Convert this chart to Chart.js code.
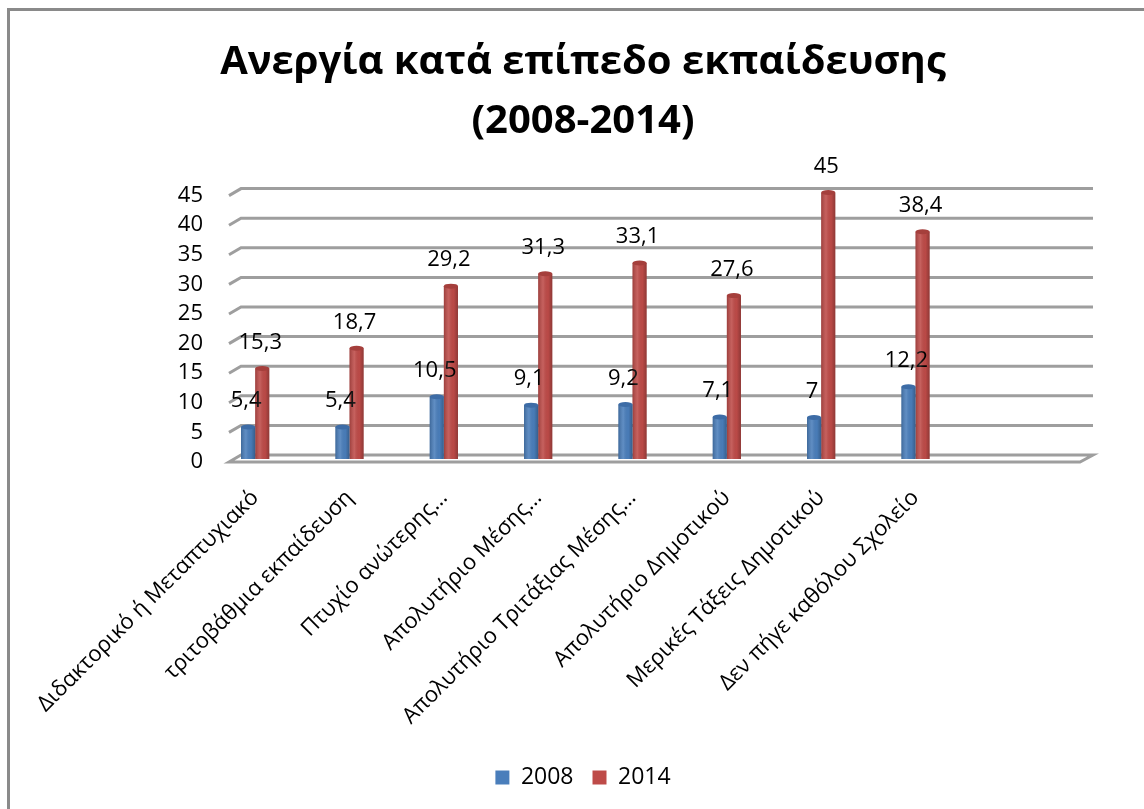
<!DOCTYPE html>
<html>
<head>
<meta charset="utf-8">
<script src="https://cdn.jsdelivr.net/npm/chart.js@4/dist/chart.umd.min.js"></script>
<style>
	html, body { margin: 0; padding: 0; background: #fff; }
	#wrap { position: relative; width: 1144px; height: 809px; }
	#frame { position: absolute; left: 7px; top: 8px; right: -10px; bottom: -10px; border-left: 3px solid #8a8a8a; border-top: 3px solid #8a8a8a; pointer-events: none; }
</style>
</head>
<body>
<div id="wrap">
	<canvas id="chart" width="1144" height="809"></canvas>
	<div id="frame"></div>
</div>
<script>
const categories = [
	'Διδακτορικό ή Μεταπτυχιακό',
	'τριτοβάθμια εκπαίδευση',
	'Πτυχίο ανώτερης…',
	'Απολυτήριο Μέσης…',
	'Απολυτήριο Τριτάξιας Μέσης…',
	'Απολυτήριο Δημοτικού',
	'Μερικές Τάξεις Δημοτικού',
	'Δεν πήγε καθόλου Σχολείο',
	''
];
const values2008 = [5.4, 5.4, 10.5, 9.1, 9.2, 7.1, 7, 12.2, null];
const values2014 = [15.3, 18.7, 29.2, 31.3, 33.1, 27.6, 45, 38.4, null];
const seriesNames = ['2008', '2014'];
const yTicks = [0, 5, 10, 15, 20, 25, 30, 35, 40, 45];
const titleLines = ['Ανεργία κατά επίπεδο εκπαίδευσης', '(2008-2014)'];

const FONT = "'Open Sans', 'Noto Sans', sans-serif";

// grid with a little 3d slant, like the excel chart
const grid3d = {
	id: 'grid3d',
	beforeDatasetsDraw(chart) {
		const { ctx, chartArea } = chart;
		const y = chart.scales.y;
		ctx.save();
		ctx.strokeStyle = '#9e9e9e';
		ctx.lineWidth = 3;
		ctx.lineJoin = 'miter';
		yTicks.forEach(v => {
			const py = y.getPixelForValue(v);
			ctx.beginPath();
			ctx.moveTo(chartArea.left + 21, py + 3);
			ctx.lineTo(chartArea.left + 33, py - 4);
			ctx.lineTo(chartArea.right + 36, py - 4);
			if (v === 0) {
				ctx.lineTo(chartArea.right + 23, py + 3);
				ctx.closePath();
			}
			ctx.stroke();
		});
		ctx.restore();
	}
};

// shading of the bars + value labels on top
const barLabels = {
	id: 'barLabels',
	afterDatasetsDraw(chart) {
		const { ctx } = chart;
		ctx.save();
		chart.data.datasets.forEach((ds, di) => {
			const meta = chart.getDatasetMeta(di);
			meta.data.forEach((bar, i) => {
				const v = ds.data[i];
				if (v === null || v === undefined) return;
				const w = bar.width;
				const x0 = bar.x - w / 2;
				const g = ctx.createLinearGradient(x0, 0, x0 + w, 0);
				g.addColorStop(0, 'rgba(0,0,0,0.18)');
				g.addColorStop(0.35, 'rgba(255,255,255,0.12)');
				g.addColorStop(0.7, 'rgba(0,0,0,0.02)');
				g.addColorStop(1, 'rgba(0,0,0,0.25)');
				ctx.fillStyle = g;
				ctx.fillRect(x0, bar.y, w, bar.base - bar.y);
				// top cap
				ctx.fillStyle = ds.capColor;
				ctx.beginPath();
				ctx.ellipse(bar.x, bar.y, w / 2, 2.5, 0, 0, Math.PI * 2);
				ctx.fill();

				ctx.fillStyle = '#000';
				ctx.font = '22px ' + FONT;
				ctx.textAlign = 'center';
				ctx.textBaseline = 'middle';
				ctx.fillText(String(v).replace('.', ','), bar.x - 2, bar.y - 26);
			});
		});
		ctx.restore();
	}
};

new Chart(document.getElementById('chart').getContext('2d'), {
	type: 'bar',
	data: {
		labels: categories,
		datasets: [{
			label: seriesNames[0],
			data: values2008,
			backgroundColor: '#4a7ebb',
			capColor: '#3d6ca6',
			categoryPercentage: 0.3,
			barPercentage: 1
		}, {
			label: seriesNames[1],
			data: values2014,
			backgroundColor: '#be4b48',
			capColor: '#a53f3c',
			categoryPercentage: 0.3,
			barPercentage: 1
		}]
	},
	options: {
		responsive: false,
		animation: false,
		layout: { padding: { left: 22, right: 0, top: 0, bottom: 10 } },
		plugins: {
			title: {
				display: true,
				text: titleLines,
				color: '#000',
				font: { family: FONT, size: 40, weight: 'bold', lineHeight: 1.47 },
				padding: { top: 33, bottom: 42 }
			},
			legend: {
				display: true,
				position: 'bottom',
				labels: {
					color: '#000',
					font: { family: FONT, size: 23 },
					boxWidth: 14,
					boxHeight: 14,
					padding: 19
				}
			},
			tooltip: { enabled: false }
		},
		scales: {
			x: {
				grid: { display: false },
				border: { display: false },
				ticks: {
					color: '#000',
					font: { family: FONT, size: 22 },
					minRotation: 45,
					maxRotation: 45,
					autoSkip: false,
					padding: 18
				},
				afterFit: s => { s.height = 288; }
			},
			y: {
				min: 0,
				max: 45,
				grid: { display: false, drawTicks: false },
				border: { display: false },
				ticks: {
					stepSize: 5,
					color: '#000',
					font: { family: FONT, size: 22 },
					padding: 5,
					labelOffset: 3
				},
				afterFit: s => { s.width = 186; }
			},
			y2: {
				position: 'right',
				grid: { display: false },
				border: { display: false },
				ticks: { display: false },
				afterFit: s => { s.width = 87; }
			}
		}
	},
	plugins: [grid3d, barLabels]
});
</script>
</body>
</html>
